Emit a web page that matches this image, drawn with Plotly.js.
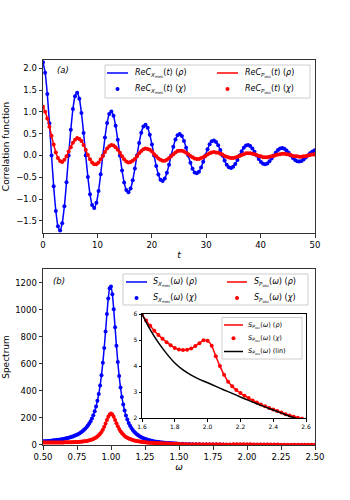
<!DOCTYPE html>
<html>
<head>
<meta charset="utf-8">
<script src="https://cdn.plot.ly/plotly-3.0.1.min.js"></script>
<style>
  html, body { margin: 0; padding: 0; background: #fff; }
  #chart { width: 350px; height: 500px; }
</style>
</head>
<body>
<div id="chart"></div>
<script>
// panel (a): correlation functions
const tVals = [
  0, 0.39, 0.79, 1.18, 1.57, 1.96, 2.36, 2.75,
  3.14, 3.53, 3.93, 4.32, 4.71, 5.11, 5.50, 5.89,
  6.28, 6.68, 7.07, 7.46, 7.85, 8.25, 8.64, 9.03,
  9.42, 9.82, 10.21, 10.60, 11.00, 11.39, 11.78, 12.17,
  12.57, 12.96, 13.35, 13.74, 14.14, 14.53, 14.92, 15.32,
  15.71, 16.10, 16.49, 16.89, 17.28, 17.67, 18.06, 18.46,
  18.85, 19.24, 19.63, 20.03, 20.42, 20.81, 21.21, 21.60,
  21.99, 22.38, 22.78, 23.17, 23.56, 23.95, 24.35, 24.74,
  25.13, 25.53, 25.92, 26.31, 26.70, 27.10, 27.49, 27.88,
  28.27, 28.67, 29.06, 29.45, 29.85, 30.24, 30.63, 31.02,
  31.42, 31.81, 32.20, 32.59, 32.99, 33.38, 33.77, 34.17,
  34.56, 34.95, 35.34, 35.74, 36.13, 36.52, 36.91, 37.31,
  37.70, 38.09, 38.48, 38.88, 39.27, 39.66, 40.06, 40.45,
  40.84, 41.23, 41.63, 42.02, 42.41, 42.80, 43.20, 43.59,
  43.98, 44.37, 44.77, 45.16, 45.55, 45.95, 46.34, 46.73,
  47.12, 47.52, 47.91, 48.30, 48.69, 49.09, 49.48, 49.87,
  50
];
const cXmec = [
  2.14, 1.90, 1.41, 0.738, 0.00, -0.705, -1.273, -1.627, -1.722, -1.556, -1.164, -0.617, 0.00, 0.590, 1.065, 1.361,
  1.440, 1.301, 0.973, 0.516, 0.00, -0.493, -0.890, -1.138, -1.204, -1.088, -0.814, -0.431, 0.00, 0.412, 0.744, 0.951,
  1.007, 0.910, 0.680, 0.360, 0.00, -0.345, -0.622, -0.795, -0.842, -0.760, -0.569, -0.301, 0.00, 0.288, 0.520, 0.665,
  0.704, 0.636, 0.476, 0.252, 0.00, -0.241, -0.435, -0.556, -0.588, -0.531, -0.398, -0.211, 0.00, 0.201, 0.364, 0.465,
  0.492, 0.444, 0.332, 0.176, 0.00, -0.168, -0.304, -0.389, -0.411, -0.372, -0.278, -0.147, 0.00, 0.141, 0.254, 0.325,
  0.344, 0.311, 0.232, 0.123, 0.00, -0.118, -0.213, -0.272, -0.287, -0.260, -0.194, -0.103, 0.00, 0.098, 0.178, 0.227,
  0.240, 0.217, 0.162, 0.086, 0.00, -0.082, -0.149, -0.190, -0.201, -0.182, -0.136, -0.072, 0.00, 0.069, 0.124, 0.159,
  0.168, 0.152, 0.114, 0.060, 0.00, -0.058, -0.104, -0.133, -0.140, -0.127, -0.095, -0.050, 0.00, 0.048, 0.087, 0.111,
  0.115
];
const cPosc = [
  1.12, 1.00, 0.85, 0.66, 0.45, 0.25, 0.07, -0.06, -0.13, -0.15, -0.10, -0.02, 0.09, 0.19, 0.29, 0.36,
  0.40, 0.38, 0.33, 0.24, 0.13, 0.01, -0.09, -0.16, -0.20, -0.20, -0.16, -0.09, -0.01, 0.08, 0.16, 0.21,
  0.24, 0.23, 0.19, 0.13, 0.06, -0.02, -0.09, -0.14, -0.16, -0.15, -0.12, -0.08, -0.02, 0.05, 0.10, 0.14,
  0.16, 0.15, 0.13, 0.09, 0.03, -0.02, -0.07, -0.10, -0.12, -0.12, -0.10, -0.06, -0.02, 0.03, 0.07, 0.10,
  0.11, 0.11, 0.09, 0.06, 0.03, -0.01, -0.04, -0.07, -0.08, -0.08, -0.06, -0.04, -0.01, 0.02, 0.05, 0.07,
  0.08, 0.07, 0.06, 0.04, 0.02, -0.01, -0.03, -0.05, -0.06, -0.06, -0.05, -0.03, -0.01, 0.01, 0.03, 0.05,
  0.05, 0.05, 0.04, 0.03, 0.01, -0.01, -0.02, -0.04, -0.04, -0.04, -0.03, -0.02, -0.01, 0.01, 0.02, 0.03,
  0.04, 0.04, 0.03, 0.02, 0.01, -0.01, -0.02, -0.02, -0.03, -0.03, -0.02, -0.02, 0.00, 0.01, 0.02, 0.02,
  0.03
];

// panel (b): spectra
const wVals = [
  0.50, 0.51, 0.52, 0.53, 0.54, 0.55, 0.56, 0.57, 0.58, 0.59,
  0.60, 0.61, 0.62, 0.63, 0.64, 0.65, 0.66, 0.67, 0.68, 0.69,
  0.70, 0.71, 0.72, 0.73, 0.74, 0.75, 0.76, 0.77, 0.78, 0.79,
  0.80, 0.81, 0.82, 0.83, 0.84, 0.85, 0.86, 0.87, 0.88, 0.89,
  0.90, 0.91, 0.92, 0.93, 0.94, 0.95, 0.96, 0.97, 0.98, 0.99,
  1.00, 1.01, 1.02, 1.03, 1.04, 1.05, 1.06, 1.07, 1.08, 1.09,
  1.10, 1.11, 1.12, 1.13, 1.14, 1.15, 1.16, 1.17, 1.18, 1.19,
  1.20, 1.21, 1.22, 1.23, 1.24, 1.25, 1.26, 1.27, 1.28, 1.29,
  1.30, 1.31, 1.32, 1.33, 1.34, 1.35, 1.36, 1.37, 1.38, 1.39,
  1.40, 1.41, 1.42, 1.43, 1.44, 1.45, 1.46, 1.47, 1.48, 1.49,
  1.50,
  1.525, 1.55, 1.575, 1.6, 1.625, 1.65, 1.675, 1.7, 1.725, 1.75, 1.775,
  1.8, 1.825, 1.85, 1.875, 1.9, 1.925, 1.95, 1.975, 2.0, 2.025, 2.05,
  2.075, 2.1, 2.125, 2.15, 2.175, 2.2, 2.225, 2.25, 2.275, 2.3, 2.325,
  2.35, 2.375, 2.4, 2.425, 2.45, 2.475, 2.5, 2.525, 2.55, 2.575, 2.6
];
const sXmec = [
  26.9, 27.6, 28.4, 29.2, 30.1, 31.0, 32.0, 33.1, 34.2, 35.4,
  36.7, 38.1, 39.6, 41.2, 43.0, 44.9, 46.9, 49.1, 51.6, 54.2,
  57.1, 60.2, 63.7, 67.6, 71.8, 76.5, 81.8, 87.7, 94.3, 101.8,
  110.3, 120.0, 131.1, 143.8, 158.7, 176.0, 196.5, 220.6, 249.5, 284.2,
  326.2, 377.2, 439.7, 515.8, 607.4, 716.1, 838.9, 967.6, 1081.8, 1157.5,
  1170, 1113.5, 1003.3, 869.1, 734.1, 612.3, 508.9, 423.9, 355.0, 299.2,
  254.2, 217.6, 187.7, 163.1, 142.6, 125.5, 111.1, 98.8, 88.4, 79.4,
  71.6, 64.9, 59.0, 53.8, 49.2, 45.2, 41.6, 38.3, 35.5, 32.9,
  30.5, 28.4, 26.5, 24.8, 23.2, 21.7, 20.4, 19.2, 18.0, 17.0,
  16.1, 15.2, 14.4, 13.6, 12.9, 12.2, 11.6, 11.1, 10.5, 10.0,
  9.6,
  8.5, 7.6, 6.8, 6.2, 5.6, 5.1, 4.6, 4.2, 3.9, 3.5, 3.3,
  3.0, 2.8, 2.6, 2.4, 2.2, 2.1, 1.9, 1.8, 1.7, 1.6, 1.5,
  1.4, 1.3, 1.23, 1.16, 1.09, 1.03, 0.97, 0.92, 0.87, 0.83, 0.78,
  0.74, 0.71, 0.67, 0.64, 0.61, 0.58, 0.55, 0.53, 0.50, 0.48, 0.46
];
const sPosc = [
  19.3, 19.2, 19.2, 19.1, 19.1, 19.0, 19.0, 19.0, 19.0, 19.0,
  19.0, 19.0, 19.1, 19.2, 19.2, 19.4, 19.5, 19.6, 19.8, 20.1,
  20.3, 20.6, 21.0, 21.4, 21.9, 22.4, 23.1, 23.8, 24.7, 25.7,
  26.9, 28.3, 30.0, 31.9, 34.2, 36.9, 40.2, 44.2, 49.0, 54.9,
  62.2, 71.2, 82.4, 96.3, 113.4, 134.0, 158.0, 183.9, 208.2, 226.2,
  232.8, 226.2, 208.5, 185.2, 160.8, 138.0, 118.2, 101.7, 88.0, 76.7,
  67.4, 59.8, 53.4, 48.1, 43.6, 39.8, 36.5, 33.6, 31.2, 29.0,
  27.1, 25.4, 23.9, 22.6, 21.4, 20.3, 19.3, 18.3, 17.5, 16.7,
  16.0, 15.3, 14.7, 14.2, 13.6, 13.1, 12.7, 12.2, 11.8, 11.4,
  11.0, 10.6, 10.3, 10.0, 9.7, 9.4, 9.1, 8.9, 8.6, 8.3,
  8.1,
  7.5, 7.0, 6.45, 6.0, 5.75, 5.55, 5.36, 5.2, 5.05, 4.92, 4.8,
  4.7, 4.64, 4.62, 4.63, 4.68, 4.77, 4.88, 4.99, 4.97, 4.78, 4.38,
  4.0, 3.67, 3.4, 3.22, 3.08, 2.96, 2.86, 2.77, 2.68, 2.6, 2.52,
  2.45, 2.39, 2.33, 2.27, 2.21, 2.15, 2.1, 2.05, 2.01, 1.97, 1.93
];

// inset: linear spectrum of P_osc
const wLin = [1.6, 1.65, 1.7, 1.75, 1.8, 1.85, 1.9, 1.95, 2.0, 2.05, 2.1,
              2.15, 2.2, 2.25, 2.3, 2.35, 2.4, 2.45, 2.5, 2.55, 2.6];
const sPoscLin = [6.0, 5.4, 4.9, 4.48, 4.12, 3.85, 3.65, 3.49, 3.36, 3.22, 3.08,
                  2.95, 2.81, 2.68, 2.55, 2.43, 2.31, 2.19, 2.07, 1.96, 1.86];

const BLUE = '#0000ff';
const RED = '#ff0000';

// legend labels (mathtext-like)
const Xm = '<i>X</i><sub>mec</sub>';
const Po = '<i>P</i><sub>osc</sub>';
const labA = [
  '<i>ReC</i><sub>' + Xm + '</sub>(<i>t</i>) (<i>ρ</i>)',
  '<i>ReC</i><sub>' + Po + '</sub>(<i>t</i>) (<i>ρ</i>)',
  '<i>ReC</i><sub>' + Xm + '</sub>(<i>t</i>) (<i>χ</i>)',
  '<i>ReC</i><sub>' + Po + '</sub>(<i>t</i>) (<i>χ</i>)'
];
const labB = [
  '<i>S</i><sub>' + Xm + '</sub>(<i>ω</i>) (<i>ρ</i>)',
  '<i>S</i><sub>' + Po + '</sub>(<i>ω</i>) (<i>ρ</i>)',
  '<i>S</i><sub>' + Xm + '</sub>(<i>ω</i>) (<i>χ</i>)',
  '<i>S</i><sub>' + Po + '</sub>(<i>ω</i>) (<i>χ</i>)'
];
const labIn = [
  '<i>S</i><sub>' + Po + '</sub>(<i>ω</i>) (<i>ρ</i>)',
  '<i>S</i><sub>' + Po + '</sub>(<i>ω</i>) (<i>χ</i>)',
  '<i>S</i><sub>' + Po + '</sub>(<i>ω</i>) (lin)'
];

function lineTrace(x, y, color, xa, ya) {
  return {x: x, y: y, type: 'scatter', mode: 'lines', showlegend: false,
          line: {color: color, width: 1.5, shape: 'spline', smoothing: 0.6},
          xaxis: xa, yaxis: ya, hoverinfo: 'skip'};
}
function dotTrace(x, y, color, xa, ya) {
  return {x: x, y: y, type: 'scatter', mode: 'markers', showlegend: false,
          marker: {color: color, size: 4},
          xaxis: xa, yaxis: ya, hoverinfo: 'skip'};
}

const data = [
  lineTrace(tVals, cXmec, BLUE, 'x', 'y'),
  dotTrace(tVals, cXmec, BLUE, 'x', 'y'),
  lineTrace(tVals, cPosc, RED, 'x', 'y'),
  dotTrace(tVals, cPosc, RED, 'x', 'y'),

  lineTrace(wVals, sXmec, BLUE, 'x2', 'y2'),
  dotTrace(wVals, sXmec, BLUE, 'x2', 'y2'),
  lineTrace(wVals, sPosc, RED, 'x2', 'y2'),
  dotTrace(wVals, sPosc, RED, 'x2', 'y2'),

  lineTrace(wVals, sPosc, RED, 'x3', 'y3'),
  dotTrace(wVals, sPosc, RED, 'x3', 'y3'),
  lineTrace(wLin, sPoscLin, '#000000', 'x3', 'y3')
];

// legend boxes are drawn by hand (matplotlib-style, tighter rows than plotly legends)
// plot area in pixels: x 43..315, y 60..445
const px = v => (v - 43) / 272;
const py = v => (445 - v) / 385;

const shapes = [];
const annotations = [];

function legendBox(x0, y0, x1, y1) {
  shapes.push({type: 'rect', xref: 'paper', yref: 'paper', layer: 'above',
    x0: px(x0), x1: px(x1), y0: py(y1), y1: py(y0),
    fillcolor: 'rgba(255,255,255,0.9)', line: {color: '#cccccc', width: 1}});
}
function legendItem(kind, color, xs, xe, y, xt, label, size) {
  if (kind === 'line') {
    shapes.push({type: 'line', xref: 'paper', yref: 'paper', layer: 'above',
      x0: px(xs), x1: px(xe), y0: py(y), y1: py(y), line: {color: color, width: 1.5}});
  } else {
    const xc = (xs + xe) / 2;
    shapes.push({type: 'circle', xref: 'paper', yref: 'paper', layer: 'above',
      x0: px(xc - 2), x1: px(xc + 2), y0: py(y + 2), y1: py(y - 2),
      fillcolor: color, line: {color: color, width: 0}});
  }
  annotations.push({text: label, xref: 'paper', yref: 'paper', x: px(xt), y: py(y),
    xanchor: 'left', yanchor: 'middle', showarrow: false, borderpad: 0,
    font: {size: size}});
}

// (a)
legendBox(105, 65, 310, 98);
legendItem('line', BLUE, 107, 128, 73, 134, labA[0], 8);
legendItem('line', RED, 217, 238, 73, 244, labA[1], 8);
legendItem('dot', BLUE, 107, 128, 89, 134, labA[2], 8);
legendItem('dot', RED, 217, 238, 89, 244, labA[3], 8);
// (b)
legendBox(123, 274, 308, 305);
legendItem('line', BLUE, 126, 147, 282, 152, labB[0], 8);
legendItem('line', RED, 227, 247, 282, 253, labB[1], 8);
legendItem('dot', BLUE, 126, 147, 298, 152, labB[2], 8);
legendItem('dot', RED, 227, 247, 298, 253, labB[3], 8);
// inset
legendBox(222, 317.5, 302, 359);
legendItem('line', RED, 224, 243, 325, 247, labIn[0], 6.5);
legendItem('dot', RED, 224, 243, 338.3, 247, labIn[1], 6.5);
legendItem('line', '#000000', 224, 243, 351.5, 247, labIn[2], 6.5);

annotations.push(
  {text: '<i>(a)</i>', xref: 'paper', yref: 'paper', x: px(55), y: py(70.5),
   xanchor: 'left', yanchor: 'middle', showarrow: false, font: {size: 8.5}},
  {text: '<i>(b)</i>', xref: 'paper', yref: 'paper', x: px(51), y: py(280.5),
   xanchor: 'left', yanchor: 'middle', showarrow: false, font: {size: 8.5}}
);

const axisBase = {
  showline: true, mirror: true, linecolor: '#333', linewidth: 1,
  ticks: 'outside', ticklen: 3.5, tickwidth: 1, tickcolor: '#333',
  showgrid: false, zeroline: false, fixedrange: true
};

const layout = {
  width: 350, height: 500,
  margin: {l: 43, r: 35, t: 60, b: 55},
  paper_bgcolor: '#fff', plot_bgcolor: '#fff',
  font: {family: 'DejaVu Sans', size: 8.5, color: '#000'},
  showlegend: false,
  xaxis: Object.assign({}, axisBase, {
    domain: [0, 1], anchor: 'y', range: [0, 50], tickvals: [0, 10, 20, 30, 40, 50],
    title: {text: '<i>t</i>', font: {size: 9}, standoff: 2}
  }),
  yaxis: Object.assign({}, axisBase, {
    domain: [0.5506, 1], anchor: 'x', range: [-1.78, 2.19],
    tickvals: [-1.5, -1.0, -0.5, 0, 0.5, 1.0, 1.5, 2.0], tickformat: '.1f',
    title: {text: 'Correlation function', font: {size: 9}, standoff: 4}
  }),
  xaxis2: Object.assign({}, axisBase, {
    domain: [0, 1], anchor: 'y2', range: [0.5, 2.5], dtick: 0.25, tick0: 0.5, tickformat: '.2f',
    title: {text: '<i>ω</i>', font: {size: 9}, standoff: 0}
  }),
  yaxis2: Object.assign({}, axisBase, {
    domain: [0, 0.4571], anchor: 'x2', range: [0, 1300], dtick: 200,
    title: {text: 'Spectrum', font: {size: 9}, standoff: 4}
  }),
  xaxis3: Object.assign({}, axisBase, {
    domain: [0.364, 0.967], anchor: 'y3', range: [1.6, 2.6], dtick: 0.2, tick0: 1.6,
    tickformat: '.1f', ticklen: 2.5, tickfont: {size: 6}, linecolor: '#000', tickcolor: '#000'
  }),
  yaxis3: Object.assign({}, axisBase, {
    domain: [0.070, 0.340], anchor: 'x3', range: [2, 6], dtick: 1,
    ticklen: 2.5, tickfont: {size: 6}, linecolor: '#000', tickcolor: '#000'
  }),
  shapes: shapes,
  annotations: annotations
};

Plotly.newPlot('chart', data, layout, {displayModeBar: false, staticPlot: true});
</script>
</body>
</html>
